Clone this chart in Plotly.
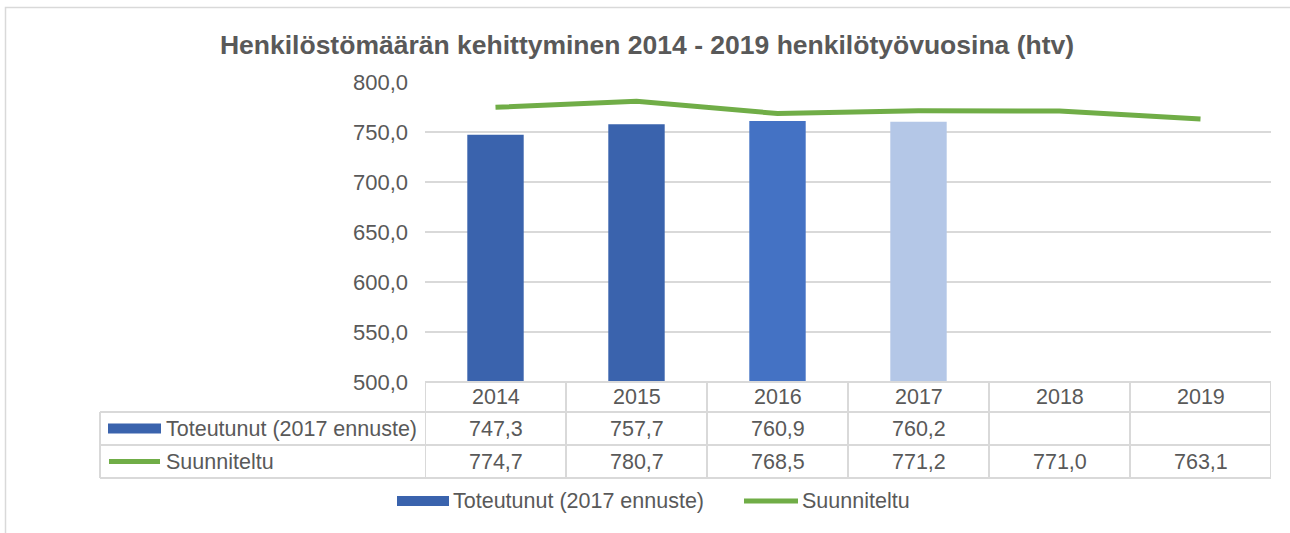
import plotly.graph_objects as go

years = ["2014", "2015", "2016", "2017", "2018", "2019"]
toteutunut = [747.3, 757.7, 760.9, 760.2]
suunniteltu = [774.7, 780.7, 768.5, 771.2, 771.0, 763.1]
bar_colors = ["#3A63AD", "#3A63AD", "#4472C4", "#B4C7E7"]
series_names = ["Toteutunut (2017 ennuste)", "Suunniteltu"]
title_text = "Henkilöstömäärän kehittyminen 2014 - 2019 henkilötyövuosina (htv)"
y_ticks = [500, 550, 600, 650, 700, 750, 800]

FONT = "Liberation Sans, Arial, sans-serif"
TXT = "#595959"
GRID = "#D9D9D9"
BAR_KEY = "#3A63AD"
LINE_C = "#70AD47"

W, H = 1290, 533
L, R, T, B = 425, 19, 82, 533 - 382
PW, PH = W - L - R, H - T - B


def px_x(X):
    return (X - L) / PW


def px_y(Y):
    return (T + PH - Y) / PH


def fmt(v):
    return f"{v:.1f}".replace(".", ",")


TFS = 21.5

fig = go.Figure()
fig.add_trace(go.Bar(
    x=years[:len(toteutunut)], y=toteutunut, name=series_names[0],
    marker=dict(color=bar_colors, line=dict(width=0)), width=0.4,
    showlegend=False, hoverinfo="x+y",
))
fig.add_trace(go.Scatter(
    x=years, y=suunniteltu, name=series_names[1], mode="lines",
    line=dict(color=LINE_C, width=5), showlegend=False,
))

shapes = []
annotations = []

# chart frame
shapes.append(dict(type="rect", xref="paper", yref="paper",
                   x0=px_x(5.5), x1=px_x(1320), y0=px_y(560), y1=px_y(7.5),
                   line=dict(color=GRID, width=1.5), layer="below"))

# data table lines
y_top, y_r1, y_r2, y_bot = 382, 412, 445, 478
n = len(years)
for Y, full in [(y_top, False), (y_r1, True), (y_r2, True), (y_bot, True)]:
    shapes.append(dict(type="line", xref="paper", yref="paper",
                       x0=px_x(100) if full else 0, x1=1, y0=px_y(Y), y1=px_y(Y),
                       line=dict(color=GRID, width=2)))
for i in range(n + 1):
    shapes.append(dict(type="line", xref="x", yref="paper",
                       x0=i - 0.5, x1=i - 0.5, y0=px_y(y_top), y1=px_y(y_bot),
                       line=dict(color=GRID, width=2)))
shapes.append(dict(type="line", xref="paper", yref="paper",
                   x0=px_x(100), x1=px_x(100), y0=px_y(y_r1), y1=px_y(y_bot),
                   line=dict(color=GRID, width=2)))

# table texts
row_y = [(y_top + y_r1) / 2, (y_r1 + y_r2) / 2, (y_r2 + y_bot) / 2]
for i, yr in enumerate(years):
    annotations.append(dict(x=i, y=px_y(row_y[0]), xref="x", yref="paper",
                            text=yr, showarrow=False, xanchor="center", yanchor="middle",
                            font=dict(family=FONT, size=TFS, color=TXT)))
for i, v in enumerate(toteutunut):
    annotations.append(dict(x=i, y=px_y(row_y[1]), xref="x", yref="paper",
                            text=fmt(v), showarrow=False, xanchor="center", yanchor="middle",
                            font=dict(family=FONT, size=TFS, color=TXT)))
for i, v in enumerate(suunniteltu):
    annotations.append(dict(x=i, y=px_y(row_y[2]), xref="x", yref="paper",
                            text=fmt(v), showarrow=False, xanchor="center", yanchor="middle",
                            font=dict(family=FONT, size=TFS, color=TXT)))

# row header keys
shapes.append(dict(type="rect", xref="paper", yref="paper",
                   x0=px_x(108), x1=px_x(161), y0=px_y(row_y[1] + 5), y1=px_y(row_y[1] - 5),
                   fillcolor=BAR_KEY, line=dict(width=0)))
shapes.append(dict(type="line", xref="paper", yref="paper",
                   x0=px_x(109), x1=px_x(160), y0=px_y(row_y[2]), y1=px_y(row_y[2]),
                   line=dict(color=LINE_C, width=5)))
for k, name in enumerate(series_names):
    annotations.append(dict(x=px_x(164), y=px_y(row_y[1 + k]), xref="paper", yref="paper",
                            text=name, showarrow=False, xanchor="left", yanchor="middle",
                            font=dict(family=FONT, size=TFS, color=TXT)))

# bottom legend
LY = 501
shapes.append(dict(type="rect", xref="paper", yref="paper",
                   x0=px_x(397), x1=px_x(449), y0=px_y(LY + 5), y1=px_y(LY - 5),
                   fillcolor=BAR_KEY, line=dict(width=0)))
annotations.append(dict(x=px_x(451), y=px_y(LY), xref="paper", yref="paper",
                        text=series_names[0], showarrow=False, xanchor="left", yanchor="middle",
                        font=dict(family=FONT, size=TFS, color=TXT)))
shapes.append(dict(type="line", xref="paper", yref="paper",
                   x0=px_x(744), x1=px_x(798), y0=px_y(LY), y1=px_y(LY),
                   line=dict(color=LINE_C, width=5)))
annotations.append(dict(x=px_x(800), y=px_y(LY), xref="paper", yref="paper",
                        text=series_names[1], showarrow=False, xanchor="left", yanchor="middle",
                        font=dict(family=FONT, size=TFS, color=TXT)))

fig.update_layout(
    width=W, height=H,
    margin=dict(l=L, r=R, t=T, b=B, pad=0),
    paper_bgcolor="white", plot_bgcolor="white",
    separators=", ",
    title=dict(text=f"<b>{title_text}</b>", x=647 / W, xanchor="center",
               y=1 - 45 / H, yanchor="middle", yref="container",
               font=dict(family=FONT, size=26.5, color=TXT)),
    xaxis=dict(type="category", categoryorder="array", categoryarray=years,
               range=[-0.5, n - 0.5], showticklabels=False, showgrid=False,
               zeroline=False, showline=False, ticks=""),
    yaxis=dict(range=[500, 800], tickvals=y_ticks, tickformat=".1f",
               showgrid=True, gridcolor=GRID, gridwidth=2, zeroline=False,
               showline=False, ticks="", ticklabelstandoff=16,
               tickfont=dict(family=FONT, size=22, color=TXT)),
    shapes=shapes,
    annotations=annotations,
    bargap=0.6,
)

fig.write_html(
    "out.html",
    config={"displayModeBar": False},
    post_script="document.body.style.margin='0';document.body.style.overflow='hidden';",
)
